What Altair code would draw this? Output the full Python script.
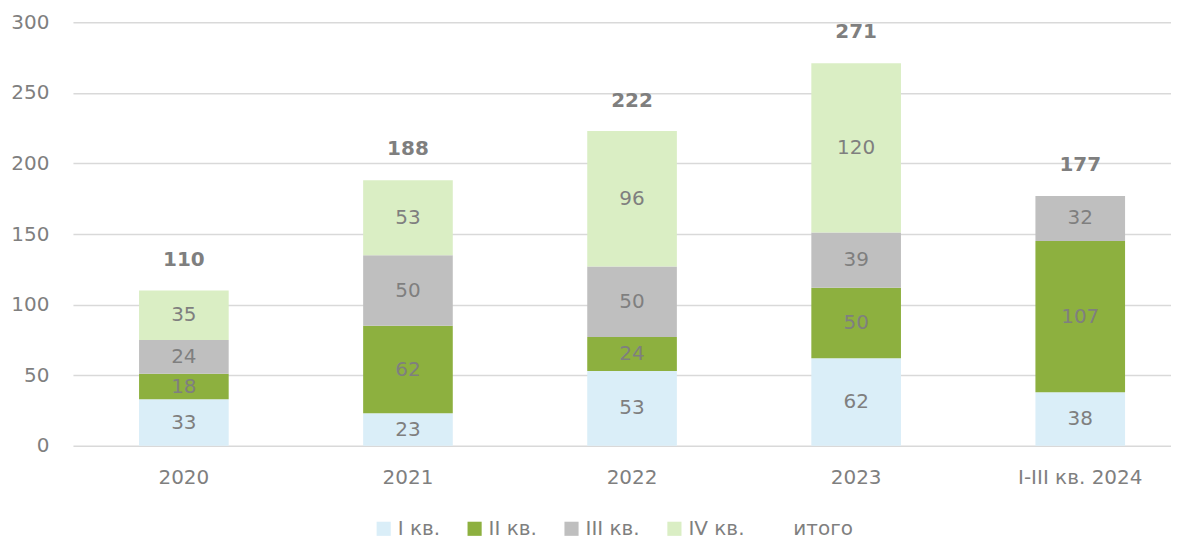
import altair as alt
import pandas as pd

years = ["2020", "2021", "2022", "2023", "I-III кв. 2024"]
series = ["I кв.", "II кв.", "III кв.", "IV кв."]
q1 = [33, 23, 53, 62, 38]
q2 = [18, 62, 24, 50, 107]
q3 = [24, 50, 50, 39, 32]
q4 = [35, 53, 96, 120, None]
totals = [110, 188, 222, 271, 177]

colors = ["#DAEEF8", "#8DB03F", "#BFBFBF", "#DAEEC4", "transparent"]
legend_domain = series + ["итого"]

rows = []
for i, y in enumerate(years):
    for k, (s, vals) in enumerate(zip(series, [q1, q2, q3, q4])):
        v = vals[i]
        if v is not None:
            rows.append({"year": y, "series": s, "value": v, "ord": k})
df = pd.DataFrame(rows)
tot = pd.DataFrame({"year": years, "total": totals})

FONT = "DejaVu Sans"
GRAY = "#7F7F7F"
FS = 20

x = alt.X("year:N", sort=years, title=None,
          scale=alt.Scale(paddingInner=0.6, paddingOuter=0.25, align=0.59),
          axis=alt.Axis(labelAngle=0, labelFontSize=FS, labelColor=GRAY,
                        labelFont=FONT, labelPadding=22, ticks=False,
                        domain=False))

base = alt.Chart(df).transform_stack(
    stack="value", groupby=["year"], as_=["y0", "y1"],
    sort=[alt.SortField("ord", order="ascending")]
).transform_calculate(mid="(datum.y0 + datum.y1) / 2")

bars = base.mark_bar().encode(
    x=x,
    y=alt.Y("y0:Q", title=None,
            scale=alt.Scale(domain=[0, 300]),
            axis=alt.Axis(values=[0, 50, 100, 150, 200, 250, 300],
                          labelFontSize=FS, labelColor=GRAY, labelFont=FONT,
                          labelPadding=24, ticks=False, domain=False,
                          gridColor="#D9D9D9", gridWidth=1.5)),
    y2="y1:Q",
    color=alt.Color("series:N",
                    scale=alt.Scale(domain=legend_domain, range=colors),
                    legend=alt.Legend(orient="none", legendX=301, legendY=497,
                                      direction="horizontal", title=None,
                                      labelFontSize=FS, labelColor=GRAY,
                                      labelFont=FONT, symbolType="square",
                                      symbolSize=200, symbolStrokeWidth=0,
                                      columnPadding=24)),
)

seg_labels = base.mark_text(fontSize=FS, color=GRAY, font=FONT,
                            baseline="middle").encode(
    x=alt.X("year:N", sort=years),
    y=alt.Y("mid:Q"),
    text=alt.Text("value:Q"),
)

tot_labels = alt.Chart(tot).mark_text(fontSize=FS, fontWeight="bold",
                                      color=GRAY, font=FONT,
                                      baseline="middle", dy=-31).encode(
    x=alt.X("year:N", sort=years),
    y=alt.Y("total:Q"),
    text=alt.Text("total:Q"),
)

chart = alt.layer(bars, seg_labels, tot_labels).properties(
    width=1099, height=424,
    padding={"left": 2, "right": 0, "top": 4, "bottom": 2}
).configure(background="white").configure_view(stroke=None)

chart.save("out.html", embed_options={"renderer": "svg", "actions": False})
